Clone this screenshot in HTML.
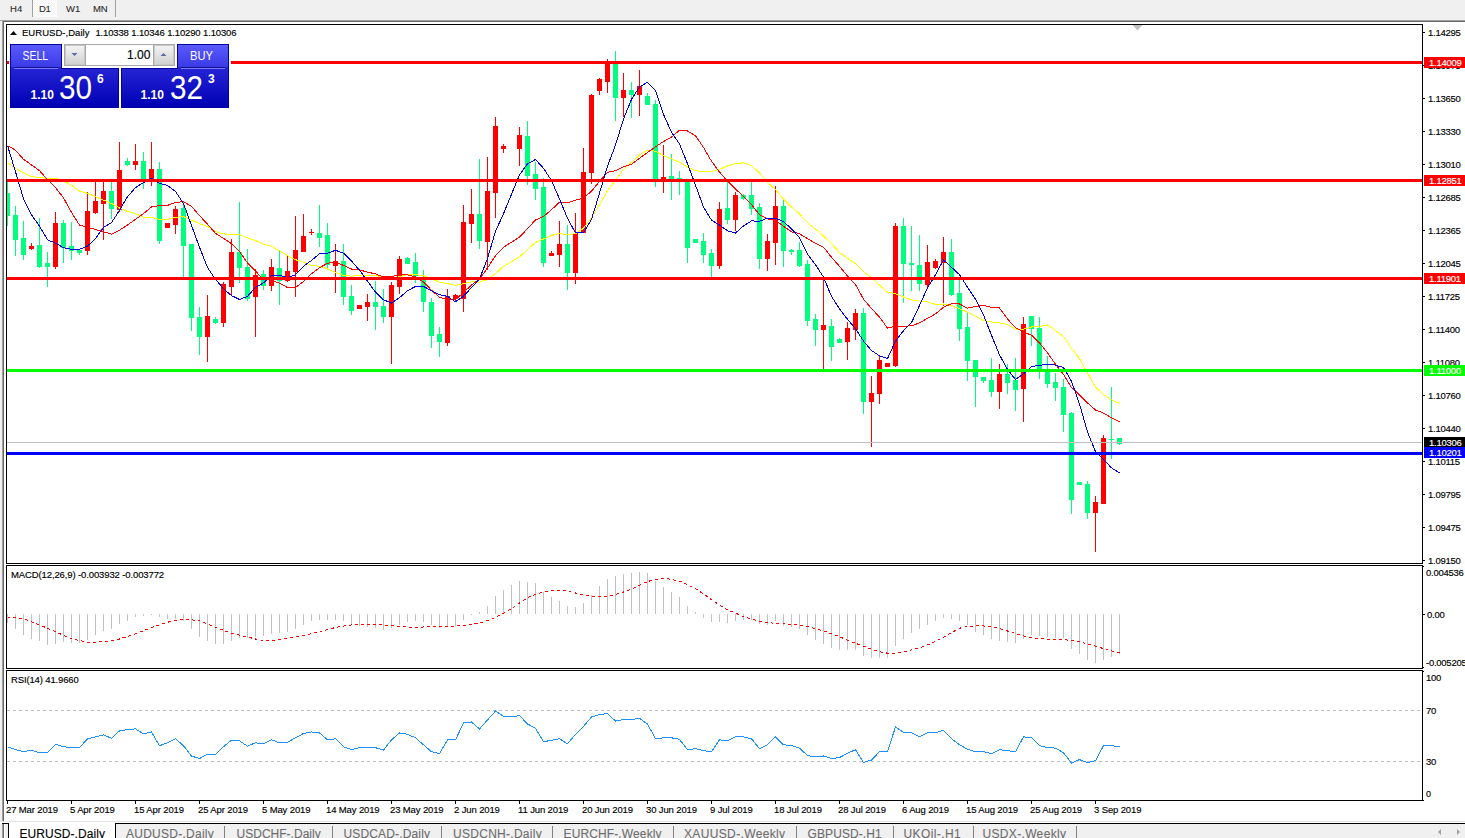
<!DOCTYPE html>
<html><head><meta charset="utf-8"><style>html,body{margin:0;padding:0;width:1465px;height:838px;overflow:hidden;background:#fff;font-family:'Liberation Sans', sans-serif}</style></head>
<body>
<svg width="1465" height="838" viewBox="0 0 1465 838" style="position:absolute;left:0;top:0;font-family:'Liberation Sans', sans-serif">
<defs><pattern id="chk" width="2" height="2" patternUnits="userSpaceOnUse"><rect width="2" height="2" fill="#f4f4f4"/><rect width="1" height="1" fill="#ffffff"/><rect x="1" y="1" width="1" height="1" fill="#ffffff"/></pattern><linearGradient id="gtab" x1="0" y1="0" x2="0" y2="1"><stop offset="0" stop-color="#5a5aff"/><stop offset="1" stop-color="#3b3be6"/></linearGradient><linearGradient id="gbox" x1="0" y1="0" x2="0" y2="1"><stop offset="0" stop-color="#3a3ae8"/><stop offset="1" stop-color="#0000b4"/></linearGradient><linearGradient id="gspin" x1="0" y1="0" x2="0" y2="1"><stop offset="0" stop-color="#f4f4f4"/><stop offset="1" stop-color="#d0d0d0"/></linearGradient></defs>
<rect width="1465" height="838" fill="#ffffff"/>
<g shape-rendering="crispEdges">
<rect x="0" y="0" width="1465" height="20" fill="#f0f0f0"/>
<rect x="33" y="0" width="24" height="17" fill="url(#chk)"/>
<rect x="32" y="0" width="1" height="17" fill="#a0a0a0"/>
<rect x="115" y="0" width="1" height="17" fill="#a0a0a0"/>
<rect x="0" y="20" width="1465" height="1" fill="#a0a0a0"/>
<rect x="3" y="21" width="1462" height="1" fill="#696969"/>
<rect x="0" y="21" width="2" height="800" fill="#f0f0f0"/>
<rect x="2" y="20" width="1" height="801" fill="#a0a0a0"/>
<rect x="3" y="21" width="1" height="800" fill="#696969"/>
</g>
<text x="10" y="12" font-size="9.5" fill="#2a2a2a" stroke="#2a2a2a" stroke-width="0.1" letter-spacing="0.028" font-weight="normal" >H4</text>
<text x="39" y="12" font-size="9.5" fill="#2a2a2a" stroke="#2a2a2a" stroke-width="0.1" letter-spacing="-0.472" font-weight="normal" >D1</text>
<text x="66" y="12" font-size="9.5" fill="#2a2a2a" stroke="#2a2a2a" stroke-width="0.1" letter-spacing="-0.025" font-weight="normal" >W1</text>
<text x="93" y="12" font-size="9.5" fill="#2a2a2a" stroke="#2a2a2a" stroke-width="0.1" letter-spacing="-0.187" font-weight="normal" >MN</text>
<g shape-rendering="crispEdges" fill="none" stroke="#000" stroke-width="1">
<rect x="6.5" y="24.5" width="1416" height="539"/>
<rect x="6.5" y="565.5" width="1416" height="103"/>
<rect x="6.5" y="670.5" width="1416" height="130"/>
</g>
<g shape-rendering="crispEdges">
<rect x="1423" y="32" width="2" height="1" fill="#000"/>
<rect x="1423" y="65" width="2" height="1" fill="#000"/>
<rect x="1423" y="98" width="2" height="1" fill="#000"/>
<rect x="1423" y="131" width="2" height="1" fill="#000"/>
<rect x="1423" y="164" width="2" height="1" fill="#000"/>
<rect x="1423" y="197" width="2" height="1" fill="#000"/>
<rect x="1423" y="230" width="2" height="1" fill="#000"/>
<rect x="1423" y="263" width="2" height="1" fill="#000"/>
<rect x="1423" y="296" width="2" height="1" fill="#000"/>
<rect x="1423" y="329" width="2" height="1" fill="#000"/>
<rect x="1423" y="362" width="2" height="1" fill="#000"/>
<rect x="1423" y="395" width="2" height="1" fill="#000"/>
<rect x="1423" y="428" width="2" height="1" fill="#000"/>
<rect x="1423" y="461" width="2" height="1" fill="#000"/>
<rect x="1423" y="494" width="2" height="1" fill="#000"/>
<rect x="1423" y="527" width="2" height="1" fill="#000"/>
<rect x="1423" y="560" width="2" height="1" fill="#000"/>
</g>
<text x="1428" y="36" font-size="9.5" fill="#000" stroke="#000" stroke-width="0.15" letter-spacing="-0.268" font-weight="normal" >1.14295</text>
<text x="1428" y="69" font-size="9.5" fill="#000" stroke="#000" stroke-width="0.15" letter-spacing="-0.268" font-weight="normal" >1.13975</text>
<text x="1428" y="102" font-size="9.5" fill="#000" stroke="#000" stroke-width="0.15" letter-spacing="-0.268" font-weight="normal" >1.13650</text>
<text x="1428" y="135" font-size="9.5" fill="#000" stroke="#000" stroke-width="0.15" letter-spacing="-0.268" font-weight="normal" >1.13330</text>
<text x="1428" y="168" font-size="9.5" fill="#000" stroke="#000" stroke-width="0.15" letter-spacing="-0.268" font-weight="normal" >1.13010</text>
<text x="1428" y="201" font-size="9.5" fill="#000" stroke="#000" stroke-width="0.15" letter-spacing="-0.268" font-weight="normal" >1.12685</text>
<text x="1428" y="234" font-size="9.5" fill="#000" stroke="#000" stroke-width="0.15" letter-spacing="-0.268" font-weight="normal" >1.12365</text>
<text x="1428" y="267" font-size="9.5" fill="#000" stroke="#000" stroke-width="0.15" letter-spacing="-0.268" font-weight="normal" >1.12045</text>
<text x="1428" y="300" font-size="9.5" fill="#000" stroke="#000" stroke-width="0.15" letter-spacing="-0.263" font-weight="normal" >1.11725</text>
<text x="1428" y="333" font-size="9.5" fill="#000" stroke="#000" stroke-width="0.15" letter-spacing="-0.263" font-weight="normal" >1.11400</text>
<text x="1428" y="366" font-size="9.5" fill="#000" stroke="#000" stroke-width="0.15" letter-spacing="-0.263" font-weight="normal" >1.11080</text>
<text x="1428" y="399" font-size="9.5" fill="#000" stroke="#000" stroke-width="0.15" letter-spacing="-0.268" font-weight="normal" >1.10760</text>
<text x="1428" y="432" font-size="9.5" fill="#000" stroke="#000" stroke-width="0.15" letter-spacing="-0.268" font-weight="normal" >1.10440</text>
<text x="1428" y="465" font-size="9.5" fill="#000" stroke="#000" stroke-width="0.15" letter-spacing="-0.263" font-weight="normal" >1.10115</text>
<text x="1428" y="498" font-size="9.5" fill="#000" stroke="#000" stroke-width="0.15" letter-spacing="-0.268" font-weight="normal" >1.09795</text>
<text x="1428" y="531" font-size="9.5" fill="#000" stroke="#000" stroke-width="0.15" letter-spacing="-0.268" font-weight="normal" >1.09475</text>
<text x="1428" y="564" font-size="9.5" fill="#000" stroke="#000" stroke-width="0.15" letter-spacing="-0.268" font-weight="normal" >1.09150</text>
<rect x="1423" y="614" width="2" height="1" fill="#000" shape-rendering="crispEdges"/>
<text x="1426" y="576" font-size="9.5" fill="#000" stroke="#000" stroke-width="0.15" letter-spacing="-0.271" font-weight="normal" >0.004536</text>
<text x="1427" y="618" font-size="9.5" fill="#000" stroke="#000" stroke-width="0.15" letter-spacing="-0.253" font-weight="normal" >0.00</text>
<text x="1426" y="666" font-size="9.5" fill="#000" stroke="#000" stroke-width="0.15" letter-spacing="-0.260" font-weight="normal" >-0.005205</text>
<rect x="1423" y="566" width="1" height="1" fill="#000" shape-rendering="crispEdges"/>
<rect x="1423" y="667" width="1" height="1" fill="#000" shape-rendering="crispEdges"/>
<rect x="1423" y="671" width="1" height="1" fill="#000" shape-rendering="crispEdges"/>
<rect x="1423" y="800" width="1" height="1" fill="#000" shape-rendering="crispEdges"/>
<text x="1426" y="681" font-size="9.5" fill="#000" stroke="#000" stroke-width="0.15" letter-spacing="-0.289" font-weight="normal" >100</text>
<text x="1426" y="714" font-size="9.5" fill="#000" stroke="#000" stroke-width="0.15" letter-spacing="-0.289" font-weight="normal" >70</text>
<text x="1426" y="765" font-size="9.5" fill="#000" stroke="#000" stroke-width="0.15" letter-spacing="-0.289" font-weight="normal" >30</text>
<text transform="translate(1426,797) scale(0.9453,1)" font-size="9.5" fill="#000" stroke="#000" stroke-width="0.15" text-anchor="start" font-weight="normal" >0</text>
<clipPath id="cm"><rect x="7" y="25" width="1415" height="538"/></clipPath>
<clipPath id="cmacd"><rect x="7" y="566" width="1415" height="102"/></clipPath>
<clipPath id="crsi"><rect x="7" y="671" width="1415" height="129"/></clipPath>
<g clip-path="url(#cm)">
<g shape-rendering="crispEdges">
<rect x="7" y="181" width="1" height="45" fill="#00ff7f"/>
<rect x="5" y="193" width="5" height="23" fill="#00ff7f"/>
<rect x="15" y="206" width="1" height="50" fill="#00ff7f"/>
<rect x="13" y="215" width="5" height="25" fill="#00ff7f"/>
<rect x="23" y="221" width="1" height="39" fill="#00ff7f"/>
<rect x="21" y="238" width="5" height="17" fill="#00ff7f"/>
<rect x="31" y="243" width="1" height="7" fill="#ff0000"/>
<rect x="29" y="246" width="5" height="3" fill="#ff0000"/>
<rect x="39" y="218" width="1" height="50" fill="#00ff7f"/>
<rect x="37" y="245" width="5" height="22" fill="#00ff7f"/>
<rect x="47" y="252" width="1" height="35" fill="#00ff7f"/>
<rect x="45" y="263" width="5" height="4" fill="#00ff7f"/>
<rect x="55" y="212" width="1" height="57" fill="#ff0000"/>
<rect x="53" y="223" width="5" height="44" fill="#ff0000"/>
<rect x="63" y="220" width="1" height="43" fill="#00ff7f"/>
<rect x="61" y="223" width="5" height="25" fill="#00ff7f"/>
<rect x="71" y="222" width="1" height="38" fill="#00ff7f"/>
<rect x="69" y="246" width="5" height="5" fill="#00ff7f"/>
<rect x="79" y="249" width="1" height="6" fill="#00ff7f"/>
<rect x="77" y="250" width="5" height="3" fill="#00ff7f"/>
<rect x="87" y="192" width="1" height="63" fill="#ff0000"/>
<rect x="85" y="211" width="5" height="40" fill="#ff0000"/>
<rect x="95" y="181" width="1" height="33" fill="#ff0000"/>
<rect x="93" y="201" width="5" height="12" fill="#ff0000"/>
<rect x="103" y="181" width="1" height="59" fill="#ff0000"/>
<rect x="101" y="191" width="5" height="13" fill="#ff0000"/>
<rect x="111" y="181" width="1" height="38" fill="#00ff7f"/>
<rect x="109" y="191" width="5" height="18" fill="#00ff7f"/>
<rect x="119" y="142" width="1" height="70" fill="#ff0000"/>
<rect x="117" y="170" width="5" height="40" fill="#ff0000"/>
<rect x="127" y="158" width="1" height="8" fill="#00ff7f"/>
<rect x="125" y="161" width="5" height="4" fill="#00ff7f"/>
<rect x="135" y="144" width="1" height="26" fill="#ff0000"/>
<rect x="133" y="161" width="5" height="4" fill="#ff0000"/>
<rect x="143" y="152" width="1" height="37" fill="#00ff7f"/>
<rect x="141" y="161" width="5" height="20" fill="#00ff7f"/>
<rect x="151" y="142" width="1" height="44" fill="#ff0000"/>
<rect x="149" y="169" width="5" height="13" fill="#ff0000"/>
<rect x="159" y="162" width="1" height="82" fill="#00ff7f"/>
<rect x="157" y="169" width="5" height="72" fill="#00ff7f"/>
<rect x="167" y="223" width="1" height="5" fill="#ff0000"/>
<rect x="165" y="223" width="5" height="5" fill="#ff0000"/>
<rect x="175" y="206" width="1" height="28" fill="#ff0000"/>
<rect x="173" y="209" width="5" height="16" fill="#ff0000"/>
<rect x="183" y="201" width="1" height="77" fill="#00ff7f"/>
<rect x="181" y="208" width="5" height="38" fill="#00ff7f"/>
<rect x="191" y="244" width="1" height="87" fill="#00ff7f"/>
<rect x="189" y="244" width="5" height="74" fill="#00ff7f"/>
<rect x="199" y="307" width="1" height="48" fill="#00ff7f"/>
<rect x="197" y="317" width="5" height="20" fill="#00ff7f"/>
<rect x="207" y="295" width="1" height="67" fill="#ff0000"/>
<rect x="205" y="316" width="5" height="21" fill="#ff0000"/>
<rect x="215" y="317" width="1" height="7" fill="#00ff7f"/>
<rect x="213" y="319" width="5" height="4" fill="#00ff7f"/>
<rect x="223" y="282" width="1" height="45" fill="#ff0000"/>
<rect x="221" y="284" width="5" height="39" fill="#ff0000"/>
<rect x="231" y="239" width="1" height="56" fill="#ff0000"/>
<rect x="229" y="252" width="5" height="35" fill="#ff0000"/>
<rect x="239" y="202" width="1" height="81" fill="#00ff7f"/>
<rect x="237" y="252" width="5" height="16" fill="#00ff7f"/>
<rect x="247" y="249" width="1" height="52" fill="#00ff7f"/>
<rect x="245" y="267" width="5" height="32" fill="#00ff7f"/>
<rect x="255" y="269" width="1" height="68" fill="#ff0000"/>
<rect x="253" y="275" width="5" height="22" fill="#ff0000"/>
<rect x="263" y="270" width="1" height="20" fill="#00ff7f"/>
<rect x="261" y="274" width="5" height="12" fill="#00ff7f"/>
<rect x="271" y="259" width="1" height="32" fill="#ff0000"/>
<rect x="269" y="267" width="5" height="19" fill="#ff0000"/>
<rect x="279" y="251" width="1" height="54" fill="#00ff7f"/>
<rect x="277" y="268" width="5" height="13" fill="#00ff7f"/>
<rect x="287" y="256" width="1" height="26" fill="#ff0000"/>
<rect x="285" y="271" width="5" height="10" fill="#ff0000"/>
<rect x="295" y="216" width="1" height="81" fill="#ff0000"/>
<rect x="293" y="250" width="5" height="22" fill="#ff0000"/>
<rect x="303" y="214" width="1" height="38" fill="#ff0000"/>
<rect x="301" y="236" width="5" height="16" fill="#ff0000"/>
<rect x="311" y="229" width="1" height="6" fill="#ff0000"/>
<rect x="309" y="232" width="5" height="1" fill="#ff0000"/>
<rect x="319" y="205" width="1" height="42" fill="#00ff7f"/>
<rect x="317" y="233" width="5" height="5" fill="#00ff7f"/>
<rect x="327" y="223" width="1" height="46" fill="#00ff7f"/>
<rect x="325" y="235" width="5" height="30" fill="#00ff7f"/>
<rect x="335" y="244" width="1" height="49" fill="#ff0000"/>
<rect x="333" y="261" width="5" height="5" fill="#ff0000"/>
<rect x="343" y="244" width="1" height="61" fill="#00ff7f"/>
<rect x="341" y="261" width="5" height="36" fill="#00ff7f"/>
<rect x="351" y="285" width="1" height="30" fill="#00ff7f"/>
<rect x="349" y="296" width="5" height="15" fill="#00ff7f"/>
<rect x="359" y="305" width="1" height="4" fill="#ff0000"/>
<rect x="357" y="305" width="5" height="4" fill="#ff0000"/>
<rect x="367" y="294" width="1" height="27" fill="#ff0000"/>
<rect x="365" y="302" width="5" height="5" fill="#ff0000"/>
<rect x="375" y="281" width="1" height="49" fill="#00ff7f"/>
<rect x="373" y="302" width="5" height="5" fill="#00ff7f"/>
<rect x="383" y="289" width="1" height="34" fill="#00ff7f"/>
<rect x="381" y="306" width="5" height="11" fill="#00ff7f"/>
<rect x="391" y="282" width="1" height="82" fill="#ff0000"/>
<rect x="389" y="285" width="5" height="32" fill="#ff0000"/>
<rect x="399" y="256" width="1" height="38" fill="#ff0000"/>
<rect x="397" y="259" width="5" height="28" fill="#ff0000"/>
<rect x="407" y="257" width="1" height="7" fill="#00ff7f"/>
<rect x="405" y="258" width="5" height="6" fill="#00ff7f"/>
<rect x="415" y="253" width="1" height="30" fill="#00ff7f"/>
<rect x="413" y="262" width="5" height="14" fill="#00ff7f"/>
<rect x="423" y="270" width="1" height="42" fill="#00ff7f"/>
<rect x="421" y="279" width="5" height="23" fill="#00ff7f"/>
<rect x="431" y="298" width="1" height="50" fill="#00ff7f"/>
<rect x="429" y="302" width="5" height="34" fill="#00ff7f"/>
<rect x="439" y="327" width="1" height="30" fill="#00ff7f"/>
<rect x="437" y="334" width="5" height="8" fill="#00ff7f"/>
<rect x="447" y="289" width="1" height="57" fill="#ff0000"/>
<rect x="445" y="296" width="5" height="47" fill="#ff0000"/>
<rect x="455" y="294" width="1" height="8" fill="#ff0000"/>
<rect x="453" y="295" width="5" height="4" fill="#ff0000"/>
<rect x="463" y="205" width="1" height="107" fill="#ff0000"/>
<rect x="461" y="222" width="5" height="77" fill="#ff0000"/>
<rect x="471" y="189" width="1" height="54" fill="#ff0000"/>
<rect x="469" y="214" width="5" height="10" fill="#ff0000"/>
<rect x="479" y="159" width="1" height="90" fill="#00ff7f"/>
<rect x="477" y="214" width="5" height="27" fill="#00ff7f"/>
<rect x="487" y="157" width="1" height="113" fill="#ff0000"/>
<rect x="485" y="191" width="5" height="51" fill="#ff0000"/>
<rect x="495" y="117" width="1" height="101" fill="#ff0000"/>
<rect x="493" y="126" width="5" height="67" fill="#ff0000"/>
<rect x="503" y="144" width="1" height="9" fill="#ff0000"/>
<rect x="501" y="146" width="5" height="3" fill="#ff0000"/>
<rect x="519" y="127" width="1" height="39" fill="#ff0000"/>
<rect x="517" y="135" width="5" height="14" fill="#ff0000"/>
<rect x="527" y="121" width="1" height="64" fill="#00ff7f"/>
<rect x="525" y="136" width="5" height="40" fill="#00ff7f"/>
<rect x="535" y="162" width="1" height="38" fill="#00ff7f"/>
<rect x="533" y="174" width="5" height="15" fill="#00ff7f"/>
<rect x="543" y="178" width="1" height="89" fill="#00ff7f"/>
<rect x="541" y="187" width="5" height="76" fill="#00ff7f"/>
<rect x="551" y="251" width="1" height="5" fill="#ff0000"/>
<rect x="549" y="253" width="5" height="3" fill="#ff0000"/>
<rect x="559" y="221" width="1" height="46" fill="#ff0000"/>
<rect x="557" y="244" width="5" height="11" fill="#ff0000"/>
<rect x="567" y="225" width="1" height="65" fill="#00ff7f"/>
<rect x="565" y="244" width="5" height="29" fill="#00ff7f"/>
<rect x="575" y="213" width="1" height="71" fill="#ff0000"/>
<rect x="573" y="233" width="5" height="40" fill="#ff0000"/>
<rect x="583" y="148" width="1" height="85" fill="#ff0000"/>
<rect x="581" y="172" width="5" height="61" fill="#ff0000"/>
<rect x="591" y="94" width="1" height="90" fill="#ff0000"/>
<rect x="589" y="95" width="5" height="78" fill="#ff0000"/>
<rect x="599" y="78" width="1" height="17" fill="#ff0000"/>
<rect x="597" y="79" width="5" height="12" fill="#ff0000"/>
<rect x="607" y="59" width="1" height="34" fill="#ff0000"/>
<rect x="605" y="63" width="5" height="19" fill="#ff0000"/>
<rect x="615" y="51" width="1" height="70" fill="#00ff7f"/>
<rect x="613" y="63" width="5" height="35" fill="#00ff7f"/>
<rect x="623" y="73" width="1" height="44" fill="#ff0000"/>
<rect x="621" y="90" width="5" height="8" fill="#ff0000"/>
<rect x="631" y="82" width="1" height="36" fill="#00ff7f"/>
<rect x="629" y="90" width="5" height="5" fill="#00ff7f"/>
<rect x="639" y="70" width="1" height="46" fill="#ff0000"/>
<rect x="637" y="86" width="5" height="9" fill="#ff0000"/>
<rect x="647" y="93" width="1" height="12" fill="#00ff7f"/>
<rect x="645" y="96" width="5" height="9" fill="#00ff7f"/>
<rect x="655" y="100" width="1" height="87" fill="#00ff7f"/>
<rect x="653" y="104" width="5" height="75" fill="#00ff7f"/>
<rect x="663" y="145" width="1" height="48" fill="#ff0000"/>
<rect x="661" y="177" width="5" height="5" fill="#ff0000"/>
<rect x="671" y="154" width="1" height="46" fill="#00ff7f"/>
<rect x="669" y="176" width="5" height="6" fill="#00ff7f"/>
<rect x="679" y="171" width="1" height="24" fill="#00ff7f"/>
<rect x="677" y="178" width="5" height="4" fill="#00ff7f"/>
<rect x="687" y="179" width="1" height="84" fill="#00ff7f"/>
<rect x="685" y="181" width="5" height="67" fill="#00ff7f"/>
<rect x="695" y="239" width="1" height="4" fill="#00ff7f"/>
<rect x="693" y="239" width="5" height="4" fill="#00ff7f"/>
<rect x="703" y="233" width="1" height="30" fill="#00ff7f"/>
<rect x="701" y="241" width="5" height="14" fill="#00ff7f"/>
<rect x="711" y="249" width="1" height="28" fill="#00ff7f"/>
<rect x="709" y="253" width="5" height="13" fill="#00ff7f"/>
<rect x="719" y="202" width="1" height="67" fill="#ff0000"/>
<rect x="717" y="209" width="5" height="57" fill="#ff0000"/>
<rect x="727" y="181" width="1" height="43" fill="#00ff7f"/>
<rect x="725" y="208" width="5" height="12" fill="#00ff7f"/>
<rect x="735" y="192" width="1" height="39" fill="#ff0000"/>
<rect x="733" y="195" width="5" height="25" fill="#ff0000"/>
<rect x="743" y="194" width="1" height="6" fill="#00ff7f"/>
<rect x="741" y="195" width="5" height="4" fill="#00ff7f"/>
<rect x="751" y="181" width="1" height="34" fill="#00ff7f"/>
<rect x="749" y="195" width="5" height="14" fill="#00ff7f"/>
<rect x="759" y="203" width="1" height="66" fill="#00ff7f"/>
<rect x="757" y="207" width="5" height="52" fill="#00ff7f"/>
<rect x="767" y="234" width="1" height="37" fill="#ff0000"/>
<rect x="765" y="241" width="5" height="18" fill="#ff0000"/>
<rect x="775" y="186" width="1" height="79" fill="#ff0000"/>
<rect x="773" y="206" width="5" height="37" fill="#ff0000"/>
<rect x="783" y="198" width="1" height="69" fill="#00ff7f"/>
<rect x="781" y="206" width="5" height="45" fill="#00ff7f"/>
<rect x="791" y="249" width="1" height="6" fill="#00ff7f"/>
<rect x="789" y="250" width="5" height="2" fill="#00ff7f"/>
<rect x="799" y="242" width="1" height="25" fill="#00ff7f"/>
<rect x="797" y="250" width="5" height="16" fill="#00ff7f"/>
<rect x="807" y="260" width="1" height="66" fill="#00ff7f"/>
<rect x="805" y="264" width="5" height="57" fill="#00ff7f"/>
<rect x="815" y="314" width="1" height="32" fill="#00ff7f"/>
<rect x="813" y="319" width="5" height="11" fill="#00ff7f"/>
<rect x="823" y="280" width="1" height="90" fill="#ff0000"/>
<rect x="821" y="325" width="5" height="5" fill="#ff0000"/>
<rect x="831" y="319" width="1" height="42" fill="#00ff7f"/>
<rect x="829" y="326" width="5" height="21" fill="#00ff7f"/>
<rect x="839" y="338" width="1" height="5" fill="#00ff7f"/>
<rect x="837" y="339" width="5" height="4" fill="#00ff7f"/>
<rect x="847" y="322" width="1" height="38" fill="#ff0000"/>
<rect x="845" y="328" width="5" height="14" fill="#ff0000"/>
<rect x="855" y="309" width="1" height="31" fill="#ff0000"/>
<rect x="853" y="313" width="5" height="17" fill="#ff0000"/>
<rect x="863" y="308" width="1" height="106" fill="#00ff7f"/>
<rect x="861" y="313" width="5" height="89" fill="#00ff7f"/>
<rect x="871" y="376" width="1" height="71" fill="#ff0000"/>
<rect x="869" y="393" width="5" height="9" fill="#ff0000"/>
<rect x="879" y="355" width="1" height="49" fill="#ff0000"/>
<rect x="877" y="360" width="5" height="34" fill="#ff0000"/>
<rect x="887" y="363" width="1" height="4" fill="#ff0000"/>
<rect x="885" y="363" width="5" height="4" fill="#ff0000"/>
<rect x="895" y="223" width="1" height="144" fill="#ff0000"/>
<rect x="893" y="226" width="5" height="140" fill="#ff0000"/>
<rect x="903" y="218" width="1" height="85" fill="#00ff7f"/>
<rect x="901" y="226" width="5" height="38" fill="#00ff7f"/>
<rect x="911" y="226" width="1" height="65" fill="#00ff7f"/>
<rect x="909" y="263" width="5" height="2" fill="#00ff7f"/>
<rect x="919" y="235" width="1" height="56" fill="#00ff7f"/>
<rect x="917" y="265" width="5" height="19" fill="#00ff7f"/>
<rect x="927" y="245" width="1" height="42" fill="#ff0000"/>
<rect x="925" y="262" width="5" height="23" fill="#ff0000"/>
<rect x="935" y="259" width="1" height="10" fill="#ff0000"/>
<rect x="933" y="261" width="5" height="7" fill="#ff0000"/>
<rect x="943" y="237" width="1" height="69" fill="#ff0000"/>
<rect x="941" y="252" width="5" height="11" fill="#ff0000"/>
<rect x="951" y="239" width="1" height="57" fill="#00ff7f"/>
<rect x="949" y="252" width="5" height="43" fill="#00ff7f"/>
<rect x="959" y="280" width="1" height="61" fill="#00ff7f"/>
<rect x="957" y="293" width="5" height="36" fill="#00ff7f"/>
<rect x="967" y="312" width="1" height="69" fill="#00ff7f"/>
<rect x="965" y="327" width="5" height="34" fill="#00ff7f"/>
<rect x="975" y="360" width="1" height="47" fill="#00ff7f"/>
<rect x="973" y="360" width="5" height="17" fill="#00ff7f"/>
<rect x="983" y="377" width="1" height="6" fill="#00ff7f"/>
<rect x="981" y="377" width="5" height="4" fill="#00ff7f"/>
<rect x="991" y="358" width="1" height="39" fill="#00ff7f"/>
<rect x="989" y="380" width="5" height="12" fill="#00ff7f"/>
<rect x="999" y="364" width="1" height="45" fill="#ff0000"/>
<rect x="997" y="374" width="5" height="18" fill="#ff0000"/>
<rect x="1007" y="364" width="1" height="30" fill="#00ff7f"/>
<rect x="1005" y="374" width="5" height="9" fill="#00ff7f"/>
<rect x="1015" y="358" width="1" height="53" fill="#00ff7f"/>
<rect x="1013" y="380" width="5" height="10" fill="#00ff7f"/>
<rect x="1023" y="317" width="1" height="105" fill="#ff0000"/>
<rect x="1021" y="324" width="5" height="65" fill="#ff0000"/>
<rect x="1031" y="316" width="1" height="30" fill="#00ff7f"/>
<rect x="1029" y="316" width="5" height="13" fill="#00ff7f"/>
<rect x="1039" y="317" width="1" height="62" fill="#00ff7f"/>
<rect x="1037" y="328" width="5" height="43" fill="#00ff7f"/>
<rect x="1047" y="356" width="1" height="32" fill="#00ff7f"/>
<rect x="1045" y="370" width="5" height="14" fill="#00ff7f"/>
<rect x="1055" y="373" width="1" height="28" fill="#00ff7f"/>
<rect x="1053" y="382" width="5" height="6" fill="#00ff7f"/>
<rect x="1063" y="379" width="1" height="53" fill="#00ff7f"/>
<rect x="1061" y="387" width="5" height="28" fill="#00ff7f"/>
<rect x="1071" y="412" width="1" height="102" fill="#00ff7f"/>
<rect x="1069" y="413" width="5" height="87" fill="#00ff7f"/>
<rect x="1079" y="482" width="1" height="3" fill="#00ff7f"/>
<rect x="1077" y="482" width="5" height="3" fill="#00ff7f"/>
<rect x="1087" y="481" width="1" height="38" fill="#00ff7f"/>
<rect x="1085" y="484" width="5" height="29" fill="#00ff7f"/>
<rect x="1095" y="496" width="1" height="56" fill="#ff0000"/>
<rect x="1093" y="502" width="5" height="11" fill="#ff0000"/>
<rect x="1103" y="435" width="1" height="69" fill="#ff0000"/>
<rect x="1101" y="438" width="5" height="66" fill="#ff0000"/>
<rect x="1111" y="387" width="1" height="72" fill="#00ff7f"/>
<rect x="1109" y="439" width="5" height="1" fill="#00ff7f"/>
<rect x="1119" y="438" width="1" height="7" fill="#00ff7f"/>
<rect x="1117" y="438" width="5" height="6" fill="#00ff7f"/>
</g>
<polyline points="7.5,162.7 15.5,168.3 23.5,172.9 31.5,176.7 39.5,177.4 47.5,178.5 55.5,178.1 63.5,180.8 71.5,185.3 79.5,191.0 87.5,193.3 95.5,196.7 103.5,200.1 111.5,203.5 119.5,208.0 127.5,211.4 135.5,213.7 143.5,217.1 151.5,217.5 159.5,219.3 167.5,219.3 175.5,217.4 183.5,216.6 191.5,220.1 199.5,223.8 207.5,226.4 215.5,231.7 223.5,233.9 231.5,234.4 239.5,234.7 247.5,237.9 255.5,240.5 263.5,244.2 271.5,246.2 279.5,250.9 287.5,255.6 295.5,259.7 303.5,262.2 311.5,265.6 319.5,266.2 327.5,269.0 335.5,272.3 343.5,275.6 351.5,276.1 359.5,275.4 367.5,275.6 375.5,275.6 383.5,277.1 391.5,278.0 399.5,276.8 407.5,274.6 415.5,274.7 423.5,275.6 431.5,279.1 439.5,282.2 447.5,283.6 455.5,285.3 463.5,283.7 471.5,281.8 479.5,282.1 487.5,279.4 495.5,273.6 503.5,266.4 519.5,256.9 527.5,249.5 535.5,242.4 543.5,239.0 551.5,235.6 559.5,233.3 567.5,234.9 575.5,233.6 583.5,228.3 591.5,217.7 599.5,204.7 607.5,190.6 615.5,180.2 623.5,169.3 631.5,162.2 639.5,155.1 647.5,150.1 655.5,151.3 663.5,155.7 671.5,158.9 679.5,162.3 687.5,167.0 695.5,170.8 703.5,171.5 711.5,171.5 719.5,169.2 727.5,166.0 735.5,163.6 743.5,162.8 751.5,165.4 759.5,173.0 767.5,182.4 775.5,189.6 783.5,199.2 791.5,206.9 799.5,213.9 807.5,222.8 815.5,229.1 823.5,235.9 831.5,243.6 839.5,252.4 847.5,258.3 855.5,263.7 863.5,271.6 871.5,277.8 879.5,285.1 887.5,292.1 895.5,293.7 903.5,297.0 911.5,299.9 919.5,301.1 927.5,301.8 935.5,304.3 943.5,304.0 951.5,305.4 959.5,308.8 967.5,312.3 975.5,316.2 983.5,320.5 991.5,322.0 999.5,322.8 1007.5,324.6 1015.5,329.1 1023.5,329.1 1031.5,327.0 1039.5,326.5 1047.5,324.9 1055.5,330.5 1063.5,336.5 1071.5,348.4 1079.5,358.5 1087.5,373.0 1095.5,387.0 1103.5,394.5 1111.5,399.8 1119.5,403.5" fill="none" stroke="#ffff00" stroke-width="1" shape-rendering="crispEdges"/>
<polyline points="7.5,145.6 15.5,150.2 23.5,159.3 31.5,164.9 39.5,170.6 47.5,179.7 55.5,187.6 63.5,197.8 71.5,212.5 79.5,225.0 87.5,227.3 95.5,229.5 103.5,231.8 111.5,234.1 119.5,230.2 127.5,225.0 135.5,219.3 143.5,213.7 151.5,206.9 159.5,205.7 167.5,205.4 175.5,202.4 183.5,201.7 191.5,206.4 199.5,215.6 207.5,224.2 215.5,233.4 223.5,238.4 231.5,243.7 239.5,251.6 247.5,262.9 255.5,271.1 263.5,279.4 271.5,280.2 279.5,283.3 287.5,287.5 295.5,287.5 303.5,281.4 311.5,273.7 319.5,267.7 327.5,263.3 335.5,261.8 343.5,265.5 351.5,269.0 359.5,269.9 367.5,272.1 375.5,273.9 383.5,277.0 391.5,276.5 399.5,274.8 407.5,274.8 415.5,276.8 423.5,281.8 431.5,290.3 439.5,297.2 447.5,299.7 455.5,299.7 463.5,292.5 471.5,285.1 479.5,278.8 487.5,268.0 495.5,255.8 503.5,247.2 519.5,237.2 527.5,228.6 535.5,220.0 543.5,216.4 551.5,209.7 559.5,202.1 567.5,202.7 575.5,200.1 583.5,198.1 591.5,191.2 599.5,181.3 607.5,172.4 615.5,170.6 623.5,166.9 631.5,164.3 639.5,158.2 647.5,152.5 655.5,146.8 663.5,141.6 671.5,137.1 679.5,130.3 687.5,131.0 695.5,135.7 703.5,147.5 711.5,161.2 719.5,172.1 727.5,181.2 735.5,189.0 743.5,196.3 751.5,204.5 759.5,214.9 767.5,218.9 775.5,220.6 783.5,226.2 791.5,231.8 799.5,233.7 807.5,238.7 815.5,243.4 823.5,247.1 831.5,257.2 839.5,266.3 847.5,276.1 855.5,284.5 863.5,299.1 871.5,308.6 879.5,317.0 887.5,328.2 895.5,326.0 903.5,326.3 911.5,325.8 919.5,322.9 927.5,318.3 935.5,313.9 943.5,307.3 951.5,303.7 959.5,304.0 967.5,308.2 975.5,306.5 983.5,305.4 991.5,307.4 999.5,308.0 1007.5,318.9 1015.5,327.8 1023.5,331.9 1031.5,335.2 1039.5,342.9 1047.5,352.9 1055.5,364.2 1063.5,374.4 1071.5,387.5 1079.5,394.8 1087.5,402.9 1095.5,410.0 1103.5,413.1 1111.5,417.7 1119.5,421.9" fill="none" stroke="#ff0000" stroke-width="1" shape-rendering="crispEdges"/>
<polyline points="7.5,145.6 15.5,171.7 23.5,198.9 31.5,214.8 39.5,226.1 47.5,239.8 55.5,243.2 63.5,247.7 71.5,249.3 79.5,249.3 87.5,246.1 95.5,238.6 103.5,227.3 111.5,222.7 119.5,210.3 127.5,196.7 135.5,187.6 143.5,182.6 151.5,178.5 159.5,183.1 167.5,185.6 175.5,191.5 183.5,203.4 191.5,225.5 199.5,247.2 207.5,267.6 215.5,279.3 223.5,288.8 231.5,295.6 239.5,299.5 247.5,296.4 255.5,287.3 263.5,282.9 271.5,275.6 279.5,275.3 287.5,277.5 295.5,274.8 303.5,266.3 311.5,260.4 319.5,253.8 327.5,253.2 335.5,250.3 343.5,253.2 351.5,261.1 359.5,270.2 367.5,281.2 375.5,292.1 383.5,299.8 391.5,303.0 399.5,297.6 407.5,290.8 415.5,286.4 423.5,286.4 431.5,290.8 439.5,294.6 447.5,296.4 455.5,301.8 463.5,296.2 471.5,287.6 479.5,279.0 487.5,258.5 495.5,231.4 503.5,213.7 519.5,174.8 527.5,163.8 535.5,159.5 543.5,168.3 551.5,180.6 559.5,198.9 567.5,218.3 575.5,233.0 583.5,232.6 591.5,219.3 599.5,193.2 607.5,166.1 615.5,145.1 623.5,119.1 631.5,99.3 639.5,87.0 647.5,82.3 655.5,90.5 663.5,114.3 671.5,132.3 679.5,143.9 687.5,163.7 695.5,185.2 703.5,207.1 711.5,220.1 719.5,225.0 727.5,230.8 735.5,233.1 743.5,225.9 751.5,220.9 759.5,221.3 767.5,218.2 775.5,218.2 783.5,221.7 791.5,228.8 799.5,237.6 807.5,254.0 815.5,264.7 823.5,277.1 831.5,296.4 839.5,308.9 847.5,319.3 855.5,328.7 863.5,341.1 871.5,350.5 879.5,355.9 887.5,358.6 895.5,341.1 903.5,330.7 911.5,322.7 919.5,305.5 927.5,287.8 935.5,274.7 943.5,259.9 951.5,267.3 959.5,274.7 967.5,287.2 975.5,299.3 983.5,315.0 991.5,335.3 999.5,354.8 1007.5,369.5 1015.5,379.4 1023.5,373.9 1031.5,366.7 1039.5,365.3 1047.5,364.2 1055.5,365.1 1063.5,367.6 1071.5,381.3 1079.5,404.1 1087.5,432.0 1095.5,451.6 1103.5,459.5 1111.5,467.9 1119.5,473.0" fill="none" stroke="#0000dd" stroke-width="1" shape-rendering="crispEdges"/>
<g shape-rendering="crispEdges">
<rect x="7" y="442" width="1415" height="1" fill="#c0c0c0"/>
<rect x="7" y="61" width="1415" height="3" fill="#ff0000"/>
<rect x="7" y="179" width="1415" height="3" fill="#ff0000"/>
<rect x="7" y="277" width="1415" height="3" fill="#ff0000"/>
<rect x="7" y="369" width="1415" height="3" fill="#00ff00"/>
<rect x="7" y="452" width="1415" height="3" fill="#0000ff"/>
</g>
</g>
<rect x="1424" y="57" width="41" height="11" fill="#ff0000" shape-rendering="crispEdges"/>
<text x="1429" y="66" font-size="9.5" fill="#fff" stroke="#fff" stroke-width="0.15" letter-spacing="-0.268" font-weight="normal" >1.14009</text>
<rect x="1424" y="175" width="41" height="11" fill="#ff0000" shape-rendering="crispEdges"/>
<text x="1429" y="184" font-size="9.5" fill="#fff" stroke="#fff" stroke-width="0.15" letter-spacing="-0.268" font-weight="normal" >1.12851</text>
<rect x="1424" y="273" width="41" height="11" fill="#ff0000" shape-rendering="crispEdges"/>
<text x="1429" y="282" font-size="9.5" fill="#fff" stroke="#fff" stroke-width="0.15" letter-spacing="-0.263" font-weight="normal" >1.11901</text>
<rect x="1424" y="365" width="41" height="11" fill="#00ff00" shape-rendering="crispEdges"/>
<text x="1429" y="374" font-size="9.5" fill="#fff" stroke="#fff" stroke-width="0.15" letter-spacing="-0.263" font-weight="normal" >1.11000</text>
<rect x="1424" y="437" width="41" height="11" fill="#000000" shape-rendering="crispEdges"/>
<text x="1429" y="446" font-size="9.5" fill="#fff" stroke="#fff" stroke-width="0.15" letter-spacing="-0.268" font-weight="normal" >1.10306</text>
<rect x="1424" y="447" width="41" height="11" fill="#0000ff" shape-rendering="crispEdges"/>
<text x="1429" y="456" font-size="9.5" fill="#fff" stroke="#fff" stroke-width="0.15" letter-spacing="-0.268" font-weight="normal" >1.10201</text>
<polygon points="1132.5,25 1142.5,25 1137.5,30.5" fill="#c0c0c0"/>
<polygon points="10,35 17,35 13.5,31" fill="#000"/>
<text x="22" y="36" font-size="9.5" fill="#000" stroke="#000" stroke-width="0.15" letter-spacing="0.036" font-weight="normal" >EURUSD-,Daily</text>
<text x="95.4" y="36" font-size="9.5" fill="#000" stroke="#000" stroke-width="0.15" letter-spacing="-0.138" font-weight="normal" >1.10338 1.10346 1.10290 1.10306</text>
<rect x="9" y="43" width="222" height="66" fill="#ffffff"/>
<path d="M10.5,44.5 H61.5 V68.5 H118.5 V107.5 H10.5 Z" fill="url(#gbox)" stroke="#0000a0" shape-rendering="crispEdges"/>
<rect x="11" y="45" width="50" height="22" fill="url(#gtab)" shape-rendering="crispEdges"/>
<path d="M177.5,44.5 H228.5 V107.5 H121.5 V68.5 H177.5 Z" fill="url(#gbox)" stroke="#0000a0" shape-rendering="crispEdges"/>
<rect x="178" y="45" width="50" height="22" fill="url(#gtab)" shape-rendering="crispEdges"/>
<rect x="14" y="67" width="44" height="1" fill="#10108a" shape-rendering="crispEdges"/><rect x="14" y="68" width="44" height="1" fill="#7a7aff" shape-rendering="crispEdges"/>
<rect x="181" y="67" width="44" height="1" fill="#10108a" shape-rendering="crispEdges"/><rect x="181" y="68" width="44" height="1" fill="#7a7aff" shape-rendering="crispEdges"/>
<text transform="translate(22.5,60) scale(0.8687,1)" font-size="12" fill="#ffffff" text-anchor="start" font-weight="normal" >SELL</text>
<text transform="translate(190,60) scale(0.9321,1)" font-size="12" fill="#ffffff" text-anchor="start" font-weight="normal" >BUY</text>
<rect x="64.5" y="44.5" width="110" height="21" fill="#fff" stroke="#a8a8a8" shape-rendering="crispEdges"/>
<rect x="65.5" y="45.5" width="19" height="19" fill="url(#gspin)" stroke="#c8c8c8" shape-rendering="crispEdges"/>
<rect x="154.5" y="45.5" width="19" height="19" fill="url(#gspin)" stroke="#c8c8c8" shape-rendering="crispEdges"/>
<rect x="85" y="45" width="1" height="20" fill="#a8a8a8" shape-rendering="crispEdges"/>
<rect x="153" y="45" width="1" height="20" fill="#a8a8a8" shape-rendering="crispEdges"/>
<polygon points="71.5,53 77.5,53 74.5,56" fill="#5a6aa8"/>
<polygon points="160.5,56 166.5,56 163.5,53" fill="#5a6aa8"/>
<text transform="translate(127,59) scale(1.0063,1)" font-size="12" fill="#000" stroke="#000" stroke-width="0.15" text-anchor="start" font-weight="normal" >1.00</text>
<text transform="translate(30.5,99) scale(1.0020,1)" font-size="12" fill="#fff" text-anchor="start" font-weight="bold" >1.10</text>
<text transform="translate(59,99) scale(0.8991,1)" font-size="33" fill="#fff" text-anchor="start" font-weight="normal" >30</text>
<text transform="translate(97,83) scale(1.0040,1)" font-size="12" fill="#fff" text-anchor="start" font-weight="bold" >6</text>
<text transform="translate(140.5,99) scale(1.0020,1)" font-size="12" fill="#fff" text-anchor="start" font-weight="bold" >1.10</text>
<text transform="translate(170,99) scale(0.8991,1)" font-size="33" fill="#fff" text-anchor="start" font-weight="normal" >32</text>
<text transform="translate(208,83) scale(1.0040,1)" font-size="12" fill="#fff" text-anchor="start" font-weight="bold" >3</text>
<g clip-path="url(#cmacd)">
<g shape-rendering="crispEdges">
<rect x="7" y="614" width="1" height="9" fill="#c0c0c0"/>
<rect x="15" y="614" width="1" height="15" fill="#c0c0c0"/>
<rect x="23" y="614" width="1" height="21" fill="#c0c0c0"/>
<rect x="31" y="614" width="1" height="25" fill="#c0c0c0"/>
<rect x="39" y="614" width="1" height="27" fill="#c0c0c0"/>
<rect x="47" y="614" width="1" height="31" fill="#c0c0c0"/>
<rect x="55" y="614" width="1" height="30" fill="#c0c0c0"/>
<rect x="63" y="614" width="1" height="28" fill="#c0c0c0"/>
<rect x="71" y="614" width="1" height="29" fill="#c0c0c0"/>
<rect x="79" y="614" width="1" height="29" fill="#c0c0c0"/>
<rect x="87" y="614" width="1" height="26" fill="#c0c0c0"/>
<rect x="95" y="614" width="1" height="21" fill="#c0c0c0"/>
<rect x="103" y="614" width="1" height="17" fill="#c0c0c0"/>
<rect x="111" y="614" width="1" height="15" fill="#c0c0c0"/>
<rect x="119" y="614" width="1" height="10" fill="#c0c0c0"/>
<rect x="127" y="614" width="1" height="7" fill="#c0c0c0"/>
<rect x="135" y="614" width="1" height="3" fill="#c0c0c0"/>
<rect x="143" y="614" width="1" height="2" fill="#c0c0c0"/>
<rect x="151" y="614" width="1" height="1" fill="#c0c0c0"/>
<rect x="159" y="614" width="1" height="3" fill="#c0c0c0"/>
<rect x="167" y="614" width="1" height="5" fill="#c0c0c0"/>
<rect x="175" y="614" width="1" height="5" fill="#c0c0c0"/>
<rect x="183" y="614" width="1" height="7" fill="#c0c0c0"/>
<rect x="191" y="614" width="1" height="15" fill="#c0c0c0"/>
<rect x="199" y="614" width="1" height="23" fill="#c0c0c0"/>
<rect x="207" y="614" width="1" height="27" fill="#c0c0c0"/>
<rect x="215" y="614" width="1" height="30" fill="#c0c0c0"/>
<rect x="223" y="614" width="1" height="30" fill="#c0c0c0"/>
<rect x="231" y="614" width="1" height="27" fill="#c0c0c0"/>
<rect x="239" y="614" width="1" height="24" fill="#c0c0c0"/>
<rect x="247" y="614" width="1" height="24" fill="#c0c0c0"/>
<rect x="255" y="614" width="1" height="23" fill="#c0c0c0"/>
<rect x="263" y="614" width="1" height="22" fill="#c0c0c0"/>
<rect x="271" y="614" width="1" height="20" fill="#c0c0c0"/>
<rect x="279" y="614" width="1" height="19" fill="#c0c0c0"/>
<rect x="287" y="614" width="1" height="18" fill="#c0c0c0"/>
<rect x="295" y="614" width="1" height="15" fill="#c0c0c0"/>
<rect x="303" y="614" width="1" height="11" fill="#c0c0c0"/>
<rect x="311" y="614" width="1" height="7" fill="#c0c0c0"/>
<rect x="319" y="614" width="1" height="6" fill="#c0c0c0"/>
<rect x="327" y="614" width="1" height="6" fill="#c0c0c0"/>
<rect x="335" y="614" width="1" height="6" fill="#c0c0c0"/>
<rect x="343" y="614" width="1" height="7" fill="#c0c0c0"/>
<rect x="351" y="614" width="1" height="10" fill="#c0c0c0"/>
<rect x="359" y="614" width="1" height="12" fill="#c0c0c0"/>
<rect x="367" y="614" width="1" height="13" fill="#c0c0c0"/>
<rect x="375" y="614" width="1" height="14" fill="#c0c0c0"/>
<rect x="383" y="614" width="1" height="16" fill="#c0c0c0"/>
<rect x="391" y="614" width="1" height="14" fill="#c0c0c0"/>
<rect x="399" y="614" width="1" height="11" fill="#c0c0c0"/>
<rect x="407" y="614" width="1" height="8" fill="#c0c0c0"/>
<rect x="415" y="614" width="1" height="7" fill="#c0c0c0"/>
<rect x="423" y="614" width="1" height="8" fill="#c0c0c0"/>
<rect x="431" y="614" width="1" height="11" fill="#c0c0c0"/>
<rect x="439" y="614" width="1" height="14" fill="#c0c0c0"/>
<rect x="447" y="614" width="1" height="13" fill="#c0c0c0"/>
<rect x="455" y="614" width="1" height="12" fill="#c0c0c0"/>
<rect x="463" y="614" width="1" height="6" fill="#c0c0c0"/>
<rect x="471" y="614" width="1" height="1" fill="#c0c0c0"/>
<rect x="479" y="612" width="1" height="2" fill="#c0c0c0"/>
<rect x="487" y="606" width="1" height="8" fill="#c0c0c0"/>
<rect x="495" y="596" width="1" height="18" fill="#c0c0c0"/>
<rect x="503" y="590" width="1" height="24" fill="#c0c0c0"/>
<rect x="511" y="585" width="1" height="29" fill="#c0c0c0"/>
<rect x="519" y="581" width="1" height="33" fill="#c0c0c0"/>
<rect x="527" y="582" width="1" height="32" fill="#c0c0c0"/>
<rect x="535" y="583" width="1" height="31" fill="#c0c0c0"/>
<rect x="543" y="592" width="1" height="22" fill="#c0c0c0"/>
<rect x="551" y="597" width="1" height="17" fill="#c0c0c0"/>
<rect x="559" y="601" width="1" height="13" fill="#c0c0c0"/>
<rect x="567" y="606" width="1" height="8" fill="#c0c0c0"/>
<rect x="575" y="607" width="1" height="7" fill="#c0c0c0"/>
<rect x="583" y="603" width="1" height="11" fill="#c0c0c0"/>
<rect x="591" y="595" width="1" height="19" fill="#c0c0c0"/>
<rect x="599" y="586" width="1" height="28" fill="#c0c0c0"/>
<rect x="607" y="579" width="1" height="35" fill="#c0c0c0"/>
<rect x="615" y="576" width="1" height="38" fill="#c0c0c0"/>
<rect x="623" y="574" width="1" height="40" fill="#c0c0c0"/>
<rect x="631" y="573" width="1" height="41" fill="#c0c0c0"/>
<rect x="639" y="572" width="1" height="42" fill="#c0c0c0"/>
<rect x="647" y="573" width="1" height="41" fill="#c0c0c0"/>
<rect x="655" y="581" width="1" height="33" fill="#c0c0c0"/>
<rect x="663" y="587" width="1" height="27" fill="#c0c0c0"/>
<rect x="671" y="592" width="1" height="22" fill="#c0c0c0"/>
<rect x="679" y="597" width="1" height="17" fill="#c0c0c0"/>
<rect x="687" y="606" width="1" height="8" fill="#c0c0c0"/>
<rect x="695" y="612" width="1" height="2" fill="#c0c0c0"/>
<rect x="703" y="614" width="1" height="4" fill="#c0c0c0"/>
<rect x="711" y="614" width="1" height="8" fill="#c0c0c0"/>
<rect x="719" y="614" width="1" height="8" fill="#c0c0c0"/>
<rect x="727" y="614" width="1" height="9" fill="#c0c0c0"/>
<rect x="735" y="614" width="1" height="7" fill="#c0c0c0"/>
<rect x="743" y="614" width="1" height="6" fill="#c0c0c0"/>
<rect x="751" y="614" width="1" height="6" fill="#c0c0c0"/>
<rect x="759" y="614" width="1" height="10" fill="#c0c0c0"/>
<rect x="767" y="614" width="1" height="11" fill="#c0c0c0"/>
<rect x="775" y="614" width="1" height="7" fill="#c0c0c0"/>
<rect x="783" y="614" width="1" height="12" fill="#c0c0c0"/>
<rect x="791" y="614" width="1" height="13" fill="#c0c0c0"/>
<rect x="799" y="614" width="1" height="15" fill="#c0c0c0"/>
<rect x="807" y="614" width="1" height="21" fill="#c0c0c0"/>
<rect x="815" y="614" width="1" height="26" fill="#c0c0c0"/>
<rect x="823" y="614" width="1" height="30" fill="#c0c0c0"/>
<rect x="831" y="614" width="1" height="34" fill="#c0c0c0"/>
<rect x="839" y="614" width="1" height="36" fill="#c0c0c0"/>
<rect x="847" y="614" width="1" height="36" fill="#c0c0c0"/>
<rect x="855" y="614" width="1" height="36" fill="#c0c0c0"/>
<rect x="863" y="614" width="1" height="42" fill="#c0c0c0"/>
<rect x="871" y="614" width="1" height="44" fill="#c0c0c0"/>
<rect x="879" y="614" width="1" height="44" fill="#c0c0c0"/>
<rect x="887" y="614" width="1" height="44" fill="#c0c0c0"/>
<rect x="895" y="614" width="1" height="32" fill="#c0c0c0"/>
<rect x="903" y="614" width="1" height="25" fill="#c0c0c0"/>
<rect x="911" y="614" width="1" height="19" fill="#c0c0c0"/>
<rect x="919" y="614" width="1" height="15" fill="#c0c0c0"/>
<rect x="927" y="614" width="1" height="11" fill="#c0c0c0"/>
<rect x="935" y="614" width="1" height="7" fill="#c0c0c0"/>
<rect x="943" y="614" width="1" height="4" fill="#c0c0c0"/>
<rect x="951" y="614" width="1" height="5" fill="#c0c0c0"/>
<rect x="959" y="614" width="1" height="7" fill="#c0c0c0"/>
<rect x="967" y="614" width="1" height="11" fill="#c0c0c0"/>
<rect x="975" y="614" width="1" height="18" fill="#c0c0c0"/>
<rect x="983" y="614" width="1" height="21" fill="#c0c0c0"/>
<rect x="991" y="614" width="1" height="25" fill="#c0c0c0"/>
<rect x="999" y="614" width="1" height="27" fill="#c0c0c0"/>
<rect x="1007" y="614" width="1" height="28" fill="#c0c0c0"/>
<rect x="1015" y="614" width="1" height="29" fill="#c0c0c0"/>
<rect x="1023" y="614" width="1" height="25" fill="#c0c0c0"/>
<rect x="1031" y="614" width="1" height="21" fill="#c0c0c0"/>
<rect x="1039" y="614" width="1" height="22" fill="#c0c0c0"/>
<rect x="1047" y="614" width="1" height="23" fill="#c0c0c0"/>
<rect x="1055" y="614" width="1" height="24" fill="#c0c0c0"/>
<rect x="1063" y="614" width="1" height="24" fill="#c0c0c0"/>
<rect x="1071" y="614" width="1" height="35" fill="#c0c0c0"/>
<rect x="1079" y="614" width="1" height="40" fill="#c0c0c0"/>
<rect x="1087" y="614" width="1" height="46" fill="#c0c0c0"/>
<rect x="1095" y="614" width="1" height="49" fill="#c0c0c0"/>
<rect x="1103" y="614" width="1" height="46" fill="#c0c0c0"/>
<rect x="1111" y="614" width="1" height="43" fill="#c0c0c0"/>
<rect x="1119" y="614" width="1" height="40" fill="#c0c0c0"/>
</g>
<polyline points="7.5,617.0 15.5,617.8 23.5,618.5 31.5,621.7 39.5,624.9 47.5,628.3 55.5,631.8 63.5,635.3 71.5,638.6 79.5,640.6 87.5,642.1 95.5,642.1 103.5,641.7 111.5,640.5 119.5,639.0 127.5,636.4 135.5,633.7 143.5,630.7 151.5,627.6 159.5,624.7 167.5,622.2 175.5,620.7 183.5,619.3 191.5,619.8 199.5,620.8 207.5,623.9 215.5,627.2 223.5,630.3 231.5,633.1 239.5,635.1 247.5,637.0 255.5,639.0 263.5,640.4 271.5,640.3 279.5,639.8 287.5,638.2 295.5,636.8 303.5,635.3 311.5,633.6 319.5,631.8 327.5,629.6 335.5,627.5 343.5,626.1 351.5,625.0 359.5,624.4 367.5,624.1 375.5,624.3 383.5,624.9 391.5,625.8 399.5,626.6 407.5,627.0 415.5,627.2 423.5,627.0 431.5,626.8 439.5,626.7 447.5,626.5 455.5,626.0 463.5,625.3 471.5,624.2 479.5,623.1 487.5,620.6 495.5,617.5 503.5,613.3 511.5,608.5 519.5,603.0 527.5,597.6 535.5,594.4 543.5,591.9 551.5,590.8 559.5,590.3 567.5,591.1 575.5,593.0 583.5,595.0 591.5,596.2 599.5,596.7 607.5,596.0 615.5,594.6 623.5,592.0 631.5,589.1 639.5,585.3 647.5,581.5 655.5,579.5 663.5,578.3 671.5,579.4 679.5,581.1 687.5,584.7 695.5,588.7 703.5,594.0 711.5,599.6 719.5,604.9 727.5,609.7 735.5,613.2 743.5,616.5 751.5,619.0 759.5,621.1 767.5,622.5 775.5,623.4 783.5,623.9 791.5,624.4 799.5,625.2 807.5,626.5 815.5,628.6 823.5,630.9 831.5,633.7 839.5,636.6 847.5,640.2 855.5,643.3 863.5,646.1 871.5,649.3 879.5,651.7 887.5,653.2 895.5,653.1 903.5,651.9 911.5,649.8 919.5,647.8 927.5,644.9 935.5,641.4 943.5,637.2 951.5,632.7 959.5,628.2 967.5,626.6 975.5,625.9 983.5,626.0 991.5,627.0 999.5,628.5 1007.5,631.0 1015.5,633.6 1023.5,635.9 1031.5,637.6 1039.5,638.6 1047.5,639.3 1055.5,639.5 1063.5,639.6 1071.5,640.5 1079.5,642.0 1087.5,643.7 1095.5,646.2 1103.5,648.6 1111.5,650.9 1119.5,652.8" fill="none" stroke="#ff0000" stroke-width="1" stroke-dasharray="3,3" shape-rendering="crispEdges"/>
</g>
<text x="11" y="578" font-size="9.5" fill="#000" stroke="#000" stroke-width="0.15" letter-spacing="-0.116" font-weight="normal" >MACD(12,26,9) -0.003932 -0.003772</text>
<g clip-path="url(#crsi)">
<g shape-rendering="crispEdges">
<line x1="7" y1="710.5" x2="1422" y2="710.5" stroke="#c0c0c0" stroke-dasharray="3,3"/>
<line x1="7" y1="761.5" x2="1422" y2="761.5" stroke="#c0c0c0" stroke-dasharray="3,3"/>
</g>
<polyline points="7.5,746.7 15.5,749.7 23.5,751.7 31.5,750.1 39.5,752.7 47.5,752.7 55.5,744.2 63.5,746.7 71.5,747.7 79.5,747.7 87.5,738.8 95.5,736.8 103.5,734.9 111.5,738.2 119.5,730.9 127.5,729.5 135.5,728.9 143.5,733.9 151.5,731.9 159.5,745.7 167.5,742.8 175.5,738.8 183.5,745.7 191.5,756.0 199.5,758.6 207.5,754.1 215.5,754.7 223.5,746.7 231.5,740.2 239.5,740.8 247.5,746.1 255.5,742.8 263.5,743.8 271.5,739.8 279.5,742.8 287.5,742.2 295.5,737.8 303.5,733.5 311.5,731.9 319.5,732.9 327.5,739.8 335.5,738.8 343.5,746.7 351.5,749.7 359.5,747.7 367.5,747.7 375.5,747.7 383.5,750.1 391.5,739.8 399.5,732.9 407.5,734.3 415.5,737.8 423.5,744.8 431.5,751.7 439.5,753.7 447.5,739.8 455.5,739.8 463.5,723.0 471.5,722.0 479.5,728.9 487.5,720.0 495.5,711.1 503.5,716.4 511.5,717.0 519.5,715.6 527.5,724.0 535.5,728.3 543.5,741.8 551.5,740.2 559.5,738.8 567.5,743.8 575.5,734.3 583.5,726.3 591.5,717.0 599.5,714.5 607.5,713.7 615.5,721.0 623.5,719.6 631.5,719.6 639.5,718.4 647.5,724.0 655.5,738.8 663.5,737.8 671.5,737.8 679.5,739.4 687.5,749.7 695.5,748.7 703.5,750.7 711.5,751.7 719.5,739.8 727.5,740.8 735.5,736.8 743.5,736.8 751.5,738.8 759.5,748.7 767.5,744.8 775.5,736.8 783.5,744.8 791.5,745.4 799.5,748.1 807.5,755.6 815.5,757.0 823.5,756.0 831.5,758.6 839.5,757.6 847.5,753.3 855.5,749.7 863.5,762.6 871.5,760.0 879.5,751.7 887.5,751.7 895.5,726.9 903.5,732.3 911.5,732.9 919.5,736.8 927.5,732.9 935.5,732.9 943.5,730.3 951.5,738.8 959.5,744.8 967.5,749.3 975.5,751.7 983.5,751.7 991.5,753.7 999.5,749.7 1007.5,750.7 1015.5,751.7 1023.5,736.8 1031.5,737.8 1039.5,745.7 1047.5,747.7 1055.5,748.1 1063.5,752.7 1071.5,763.2 1079.5,759.6 1087.5,762.6 1095.5,760.6 1103.5,745.7 1111.5,745.7 1119.5,746.7" fill="none" stroke="#1e90ff" stroke-width="1" shape-rendering="crispEdges"/>
</g>
<text x="11" y="683" font-size="9.5" fill="#000" stroke="#000" stroke-width="0.15" letter-spacing="-0.140" font-weight="normal" >RSI(14) 41.9660</text>
<rect x="7" y="801" width="1" height="3" fill="#000" shape-rendering="crispEdges"/>
<text x="6" y="813" font-size="9.5" fill="#000" stroke="#000" stroke-width="0.15" letter-spacing="-0.128" font-weight="normal" >27 Mar 2019</text>
<rect x="71" y="801" width="1" height="3" fill="#000" shape-rendering="crispEdges"/>
<text x="70" y="813" font-size="9.5" fill="#000" stroke="#000" stroke-width="0.15" letter-spacing="-0.121" font-weight="normal" >5 Apr 2019</text>
<rect x="135" y="801" width="1" height="3" fill="#000" shape-rendering="crispEdges"/>
<text x="134" y="813" font-size="9.5" fill="#000" stroke="#000" stroke-width="0.15" letter-spacing="-0.123" font-weight="normal" >15 Apr 2019</text>
<rect x="199" y="801" width="1" height="3" fill="#000" shape-rendering="crispEdges"/>
<text x="198" y="813" font-size="9.5" fill="#000" stroke="#000" stroke-width="0.15" letter-spacing="-0.123" font-weight="normal" >25 Apr 2019</text>
<rect x="263" y="801" width="1" height="3" fill="#000" shape-rendering="crispEdges"/>
<text x="262" y="813" font-size="9.5" fill="#000" stroke="#000" stroke-width="0.15" letter-spacing="-0.131" font-weight="normal" >5 May 2019</text>
<rect x="327" y="801" width="1" height="3" fill="#000" shape-rendering="crispEdges"/>
<text x="326" y="813" font-size="9.5" fill="#000" stroke="#000" stroke-width="0.15" letter-spacing="-0.131" font-weight="normal" >14 May 2019</text>
<rect x="391" y="801" width="1" height="3" fill="#000" shape-rendering="crispEdges"/>
<text x="390" y="813" font-size="9.5" fill="#000" stroke="#000" stroke-width="0.15" letter-spacing="-0.131" font-weight="normal" >23 May 2019</text>
<rect x="455" y="801" width="1" height="3" fill="#000" shape-rendering="crispEdges"/>
<text x="454" y="813" font-size="9.5" fill="#000" stroke="#000" stroke-width="0.15" letter-spacing="-0.124" font-weight="normal" >2 Jun 2019</text>
<rect x="519" y="801" width="1" height="3" fill="#000" shape-rendering="crispEdges"/>
<text x="518" y="813" font-size="9.5" fill="#000" stroke="#000" stroke-width="0.15" letter-spacing="-0.123" font-weight="normal" >11 Jun 2019</text>
<rect x="583" y="801" width="1" height="3" fill="#000" shape-rendering="crispEdges"/>
<text x="582" y="813" font-size="9.5" fill="#000" stroke="#000" stroke-width="0.15" letter-spacing="-0.125" font-weight="normal" >20 Jun 2019</text>
<rect x="647" y="801" width="1" height="3" fill="#000" shape-rendering="crispEdges"/>
<text x="646" y="813" font-size="9.5" fill="#000" stroke="#000" stroke-width="0.15" letter-spacing="-0.125" font-weight="normal" >30 Jun 2019</text>
<rect x="711" y="801" width="1" height="3" fill="#000" shape-rendering="crispEdges"/>
<text x="710" y="813" font-size="9.5" fill="#000" stroke="#000" stroke-width="0.15" letter-spacing="-0.115" font-weight="normal" >9 Jul 2019</text>
<rect x="775" y="801" width="1" height="3" fill="#000" shape-rendering="crispEdges"/>
<text x="774" y="813" font-size="9.5" fill="#000" stroke="#000" stroke-width="0.15" letter-spacing="-0.118" font-weight="normal" >18 Jul 2019</text>
<rect x="839" y="801" width="1" height="3" fill="#000" shape-rendering="crispEdges"/>
<text x="838" y="813" font-size="9.5" fill="#000" stroke="#000" stroke-width="0.15" letter-spacing="-0.118" font-weight="normal" >28 Jul 2019</text>
<rect x="903" y="801" width="1" height="3" fill="#000" shape-rendering="crispEdges"/>
<text x="902" y="813" font-size="9.5" fill="#000" stroke="#000" stroke-width="0.15" letter-spacing="-0.127" font-weight="normal" >6 Aug 2019</text>
<rect x="967" y="801" width="1" height="3" fill="#000" shape-rendering="crispEdges"/>
<text x="966" y="813" font-size="9.5" fill="#000" stroke="#000" stroke-width="0.15" letter-spacing="-0.128" font-weight="normal" >15 Aug 2019</text>
<rect x="1031" y="801" width="1" height="3" fill="#000" shape-rendering="crispEdges"/>
<text x="1030" y="813" font-size="9.5" fill="#000" stroke="#000" stroke-width="0.15" letter-spacing="-0.128" font-weight="normal" >25 Aug 2019</text>
<rect x="1095" y="801" width="1" height="3" fill="#000" shape-rendering="crispEdges"/>
<text x="1094" y="813" font-size="9.5" fill="#000" stroke="#000" stroke-width="0.15" letter-spacing="-0.128" font-weight="normal" >3 Sep 2019</text>
<rect x="1422" y="800" width="2" height="1" fill="#000" shape-rendering="crispEdges"/>
<g shape-rendering="crispEdges">
<rect x="0" y="821" width="1465" height="1" fill="#e3e3e3"/>
<rect x="9" y="823" width="1456" height="1" fill="#000"/>
<rect x="0" y="824" width="1465" height="14" fill="#f0f0f0"/>
<rect x="9" y="823" width="106" height="15" fill="#ffffff"/>
<rect x="2" y="824" width="1" height="14" fill="#a0a0a0"/>
<rect x="3" y="824" width="1" height="14" fill="#696969"/>
<rect x="4" y="824" width="1" height="14" fill="#ffffff"/>
<rect x="2" y="823" width="7" height="1" fill="#000"/>
<rect x="8" y="823" width="1" height="15" fill="#000"/>
<rect x="115" y="823" width="1" height="15" fill="#000"/>
</g>
<text x="19.5" y="838" font-size="12" fill="#000" stroke="#000" stroke-width="0.1" letter-spacing="0.063" font-weight="normal" >EURUSD-.Daily</text>
<text x="126" y="838" font-size="12" fill="#6d6d6d" stroke="#6d6d6d" stroke-width="0.1" letter-spacing="0.256" font-weight="normal" >AUDUSD-.Daily</text>
<rect x="224" y="826" width="1" height="12" fill="#808080" shape-rendering="crispEdges"/>
<text x="236.5" y="838" font-size="12" fill="#6d6d6d" stroke="#6d6d6d" stroke-width="0.1" letter-spacing="0.015" font-weight="normal" >USDCHF-.Daily</text>
<rect x="332" y="826" width="1" height="12" fill="#808080" shape-rendering="crispEdges"/>
<text x="343.5" y="838" font-size="12" fill="#6d6d6d" stroke="#6d6d6d" stroke-width="0.1" letter-spacing="0.148" font-weight="normal" >USDCAD-.Daily</text>
<rect x="441" y="826" width="1" height="12" fill="#808080" shape-rendering="crispEdges"/>
<text x="453" y="838" font-size="12" fill="#6d6d6d" stroke="#6d6d6d" stroke-width="0.1" letter-spacing="0.282" font-weight="normal" >USDCNH-.Daily</text>
<rect x="552" y="826" width="1" height="12" fill="#808080" shape-rendering="crispEdges"/>
<text x="563.5" y="838" font-size="12" fill="#6d6d6d" stroke="#6d6d6d" stroke-width="0.1" letter-spacing="0.125" font-weight="normal" >EURCHF-.Weekly</text>
<rect x="673" y="826" width="1" height="12" fill="#808080" shape-rendering="crispEdges"/>
<text x="684" y="838" font-size="12" fill="#6d6d6d" stroke="#6d6d6d" stroke-width="0.1" letter-spacing="0.353" font-weight="normal" >XAUUSD-.Weekly</text>
<rect x="796" y="826" width="1" height="12" fill="#808080" shape-rendering="crispEdges"/>
<text x="807.5" y="838" font-size="12" fill="#6d6d6d" stroke="#6d6d6d" stroke-width="0.1" letter-spacing="0.095" font-weight="normal" >GBPUSD-.H1</text>
<rect x="893" y="826" width="1" height="12" fill="#808080" shape-rendering="crispEdges"/>
<text x="903.5" y="838" font-size="12" fill="#6d6d6d" stroke="#6d6d6d" stroke-width="0.1" letter-spacing="0.388" font-weight="normal" >UKOil-.H1</text>
<rect x="973" y="826" width="1" height="12" fill="#808080" shape-rendering="crispEdges"/>
<text x="982.5" y="838" font-size="12" fill="#6d6d6d" stroke="#6d6d6d" stroke-width="0.1" letter-spacing="0.334" font-weight="normal" >USDX-.Weekly</text>
<rect x="1076" y="826" width="1" height="12" fill="#808080" shape-rendering="crispEdges"/>
<polygon points="1441,829 1441,835 1438,832" fill="#a0a0a0"/>
<polygon points="1457,829 1457,835 1460,832" fill="#a0a0a0"/>
</svg>
</body></html>
